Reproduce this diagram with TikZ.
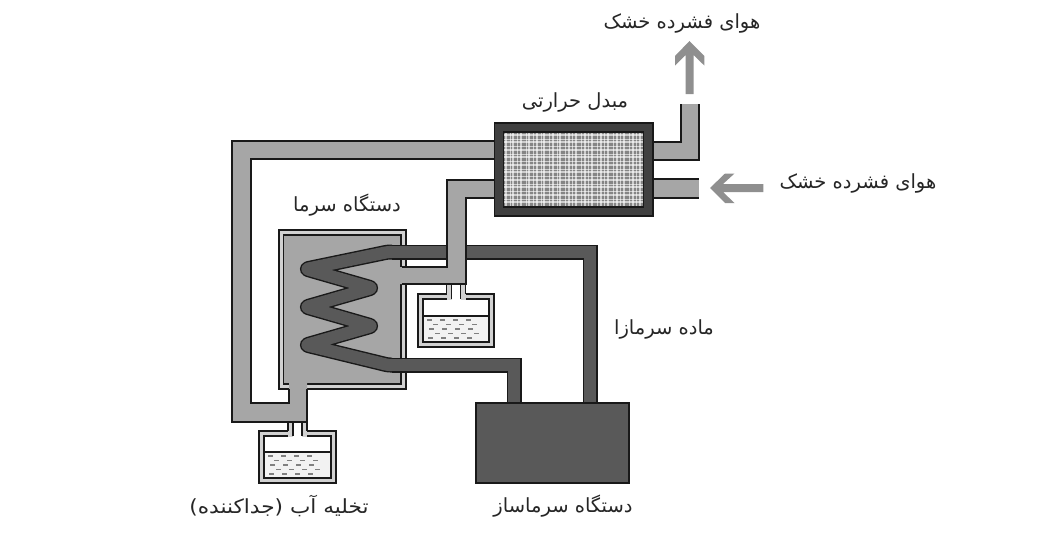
\documentclass[tikz,border=0pt]{standalone}
\usepackage{fontspec}
\newfontfamily\arabicfont[Script=Arabic]{DejaVu Sans}
\newfontfamily\arabicwide[Script=Arabic,FakeStretch=1.11]{DejaVu Sans}
\TeXXeTstate=1
\definecolor{pipegray}{gray}{0.65}
\definecolor{coilgray}{gray}{0.35}
\definecolor{wallgray}{gray}{0.82}
\definecolor{arrowgray}{gray}{0.56}
\definecolor{frame}{gray}{0.1}
\tikzset{
  wall/.style={draw=frame,line width=1.5pt},
  pipefill/.style={fill=pipegray},
  pipeline/.style={draw=frame,line width=1.7pt,line join=miter},
  legout/.style={draw=frame,line width=15pt,line join=miter},
  legin/.style={draw=coilgray,line width=12.2pt,line join=miter},
  coilout/.style={draw=frame,line width=15pt,line join=round,rounded corners=2.5pt},
  coilin/.style={draw=coilgray,line width=12.2pt,line join=round,rounded corners=2.5pt},
  flowarrow/.style={fill=arrowgray},
  label/.style={font=\arabicfont\fontsize{19.5}{23}\selectfont,text=black!85,inner sep=0pt,anchor=center},
  widelabel/.style={label,font=\arabicwide\fontsize{19.5}{23}\selectfont}
}
% The two straight refrigerant legs and the coil between them
\newcommand{\upperleg}[1]{(590,#1) -- (590,252) -- (392,252)}
\newcommand{\lowerleg}[1]{(392,365) -- (514,365) -- (514,#1)}
\newcommand{\coilpath}{(392,252) -- (388,252) -- (306,269) -- (372,288) -- (306,307) -- (372,326) -- (306,345) -- (388,365) -- (392,365)}
% Drain vessel: #1,#2 outer corner, #3,#4 far corner, #5 neck left, #6 water level
\newcommand{\draintank}[6]{%
  \fill[wallgray] (#1,#2) rectangle (#3,#4);
  \draw[wall] (#1,#2) rectangle (#3,#4);
  \fill[white,wall] (#1+5,#2+5) rectangle (#3-5,#4-5);
  \fill[black!5] (#1+5.7,#6) rectangle (#3-5.7,#4-5.7);
  \draw[wall] (#1+5,#6) -- (#3-5,#6);
  \foreach \rowy/\shift in {4/2,8.5/8,13/4,17.5/10,22/3}{
    \foreach \dashx in {2,15,...,50}{
      \draw[black!50,line width=1.2pt] (#1+5+\dashx+\shift,#6+\rowy) -- ++(5,0);
    }
  }
  \fill[wallgray] (#5,#2-10) rectangle (#5+19,#2+6);
  \fill[white] (#5+5,#2-10) rectangle (#5+14,#2+6);
  \draw[wall] (#5,#2-10) -- (#5,#2) (#5+19,#2-10) -- (#5+19,#2);
  \draw[wall] (#5+5,#2-10) -- (#5+5,#2+5) (#5+14,#2-10) -- (#5+14,#2+5);
}
\begin{document}
\begin{tikzpicture}[x=1pt,y=-1pt]
\useasboundingbox (0,0) rectangle (1041,542);

% Refrigeration unit casing
\fill[wallgray] (279,230) rectangle (406,389);
\draw[wall] (279,230) rectangle (406,389);
\fill[pipegray] (283.5,235) rectangle (401,384);
\draw[wall] (283.5,235) rectangle (401,384);

% Compressor block
\fill[coilgray,draw=frame,line width=1.5pt] (476,403) rectangle (629,483);

% Drain vessels, hung under the air lines
\draintank{418}{294}{494}{347}{446.5}{316}
\draintank{259}{431}{336}{483}{288}{452}

% Refrigerant line with its coil
\draw[legout] \upperleg{403};
\draw[legout] \lowerleg{403};
\draw[coilout] \coilpath;
\draw[legin] \upperleg{402};
\draw[legin] \lowerleg{402};
\draw[coilin] \coilpath;

% Air line leaving the unit towards the exchanger
\fill[pipefill] (232,141) -- (495,141) -- (495,159) -- (251,159) -- (251,403) -- (289,403) -- (289,380) -- (307,380) -- (307,422) -- (232,422) -- cycle;
\draw[pipeline] (495,141) -- (232,141) -- (232,422) -- (307,422) -- (307,389) (495,159) -- (251,159) -- (251,403) -- (289,403) -- (289,389);

% Air line from the exchanger into the unit
\fill[pipefill] (495,180) -- (447,180) -- (447,267) -- (398,267) -- (398,284) -- (466,284) -- (466,198) -- (495,198) -- cycle;
\draw[pipeline] (495,180) -- (447,180) -- (447,267) -- (402,267) (402,284) -- (466,284) -- (466,198) -- (495,198);

% Outlet and inlet stubs on the exchanger
\fill[pipefill] (650,142) -- (681,142) -- (681,104) -- (699,104) -- (699,160) -- (650,160) -- cycle;
\draw[pipeline] (650,142) -- (681,142) -- (681,104) (699,104) -- (699,160) -- (650,160);
\fill[pipefill] (650,179) rectangle (699,198);
\draw[pipeline] (650,179) -- (699,179) (650,198) -- (699,198);

% Heat exchanger with its woven core
\fill[black!75,draw=frame,line width=1.5pt] (494.5,123) rectangle (653,216);
\fill[black!48] (503.5,132) rectangle (643.5,207);
\foreach \gx/\gw in {506/1.2,510/.8,513/1.4,517/.8,521/1.2,526/.8,529/1.4,533/.8,537/1.2,541/.8,544/1.4,549/.8,553/1.2,557/.8,560/1.4,565/.8,569/1.2,572/.8,576/1.4,581/.8,585/1.2,588/.8,592/1.4,597/.8,601/1.2,604/.8,608/1.4,613/.8,617/1.2,620/.8,624/1.4,629/.8,633/1.2,636/.8,640/1.4}{
  \draw[white,line width=\gw pt,opacity=.6] (\gx,132) -- (\gx,207);
}
\foreach \gy/\gw in {135/1.2,139/.8,142/1.4,146/.8,150/1.2,154/.8,157/1.4,161/.8,165/1.2,169/.8,172/1.4,176/.8,180/1.2,184/.8,187/1.4,191/.8,195/1.2,199/.8,202/1.4}{
  \draw[white,line width=\gw pt,opacity=.6] (503.5,\gy) -- (643.5,\gy);
}
\draw[frame,line width=1.3pt] (503.5,132) rectangle (643.5,207);

% Flow arrows
\fill[flowarrow] (689.5,41) -- (704.3,56) -- (704.3,65.5) -- (693.5,55) -- (693.5,94) -- (685.5,94) -- (685.5,55) -- (675,65.5) -- (675,56) -- cycle;
\fill[flowarrow] (710,188) -- (725,173.5) -- (734.5,173.5) -- (723,184) -- (763.3,184) -- (763.3,192) -- (723,192) -- (734.5,203) -- (725,203) -- cycle;

% Labels
\node[label] (outair) at (682,23) {\beginR هوای فشرده خشک\endR};
\node[label] (exch) at (575,102) {\beginR مبدل حرارتی\endR};
\node[label] (inair) at (858,183) {\beginR هوای فشرده خشک\endR};
\node[label] (unit) at (347,205) {\beginR دستگاه سرما\endR};
\node[label] (coolant) at (664,329) {\beginR ماده سرمازا\endR};
\node[widelabel] (drain) at (279,506) {\beginR تخلیه آب (جداکننده)\endR};
\node[label] (comp) at (563,506) {\beginR دستگاه سرماساز\endR};
\end{tikzpicture}
\end{document}
